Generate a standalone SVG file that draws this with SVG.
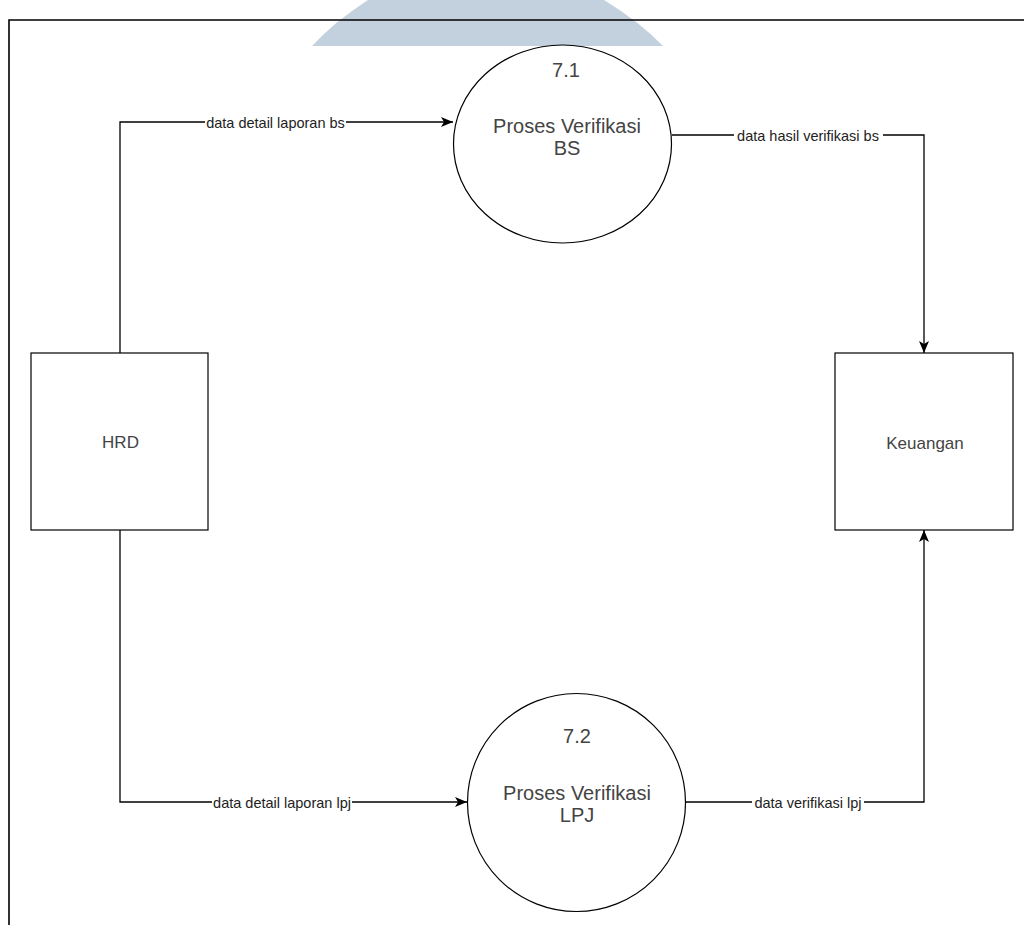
<svg xmlns="http://www.w3.org/2000/svg" width="1024" height="925" viewBox="0 0 1024 925">
  <style>
    .node { fill: #ffffff; stroke: #000000; stroke-width: 1.2; }
    .ntext { font-family: "Liberation Sans", Arial, sans-serif; fill: #444444; text-anchor: middle; }
    .big { font-size: 20px; }
    .mid { font-size: 17px; }
    .edge { fill: none; stroke: #000000; stroke-width: 1.3; }
    .lbl { font-family: "Liberation Sans", Arial, sans-serif; font-size: 14.5px; fill: #222222; text-anchor: middle; }
    .lblbg { fill: #ffffff; }
  </style>
  <defs>
    <marker id="arrow" viewBox="0 0 12 10" refX="12" refY="5" markerWidth="12" markerHeight="10" markerUnits="userSpaceOnUse" orient="auto">
      <path d="M0,0 L12,5 L0,10 L3,5 z" fill="#000000"/>
    </marker>
  </defs>
  <rect x="0" y="0" width="1024" height="925" fill="#ffffff"/>
  <g id="watermark">
    <path d="M368,0 L604,0 Q640,22 663,46 L312,46 Q334,22 368,0 z" fill="#c3d1de"/>
  </g>
  <g id="frame">
    <path d="M9,925 L9,20 L1024,20" fill="none" stroke="#000000" stroke-width="1.6"/>
  </g>
  <g id="connectors">
    <g id="e1">
      <path class="edge" d="M120,353 L120,122 L453,122" marker-end="url(#arrow)"/>
      <rect class="lblbg" x="205" y="114" width="141" height="16"/>
      <text class="lbl" x="275.5" y="127.5">data detail laporan bs</text>
    </g>
    <g id="e2">
      <path class="edge" d="M672,135 L924,135 L924,353" marker-end="url(#arrow)"/>
      <rect class="lblbg" x="734" y="127" width="149" height="16"/>
      <text class="lbl" x="808" y="140.5">data hasil verifikasi bs</text>
    </g>
    <g id="e3">
      <path class="edge" d="M120,530 L120,802 L467,802" marker-end="url(#arrow)"/>
      <rect class="lblbg" x="212" y="794" width="140" height="16"/>
      <text class="lbl" x="282" y="807.5">data detail laporan lpj</text>
    </g>
    <g id="e4">
      <path class="edge" d="M686,802 L924,802 L924,530" marker-end="url(#arrow)"/>
      <rect class="lblbg" x="752" y="794" width="112" height="16"/>
      <text class="lbl" x="808" y="807.5">data verifikasi lpj</text>
    </g>
  </g>
  <g id="p71">
    <ellipse class="node" cx="562.5" cy="144" rx="109" ry="99"/>
    <text class="ntext big" x="566" y="77">7.1</text>
    <text class="ntext big" x="567" y="133">Proses Verifikasi</text>
    <text class="ntext big" x="567" y="155">BS</text>
  </g>
  <g id="p72">
    <ellipse class="node" cx="576.5" cy="802.5" rx="109" ry="109"/>
    <text class="ntext big" x="577" y="743">7.2</text>
    <text class="ntext big" x="577" y="800">Proses Verifikasi</text>
    <text class="ntext big" x="577" y="822">LPJ</text>
  </g>
  <g id="hrd">
    <rect class="node" x="31" y="353" width="177" height="177"/>
    <text class="ntext mid" x="120.5" y="448">HRD</text>
  </g>
  <g id="keuangan">
    <rect class="node" x="835" y="353" width="178" height="177"/>
    <text class="ntext mid" x="925" y="449">Keuangan</text>
  </g>
</svg>
